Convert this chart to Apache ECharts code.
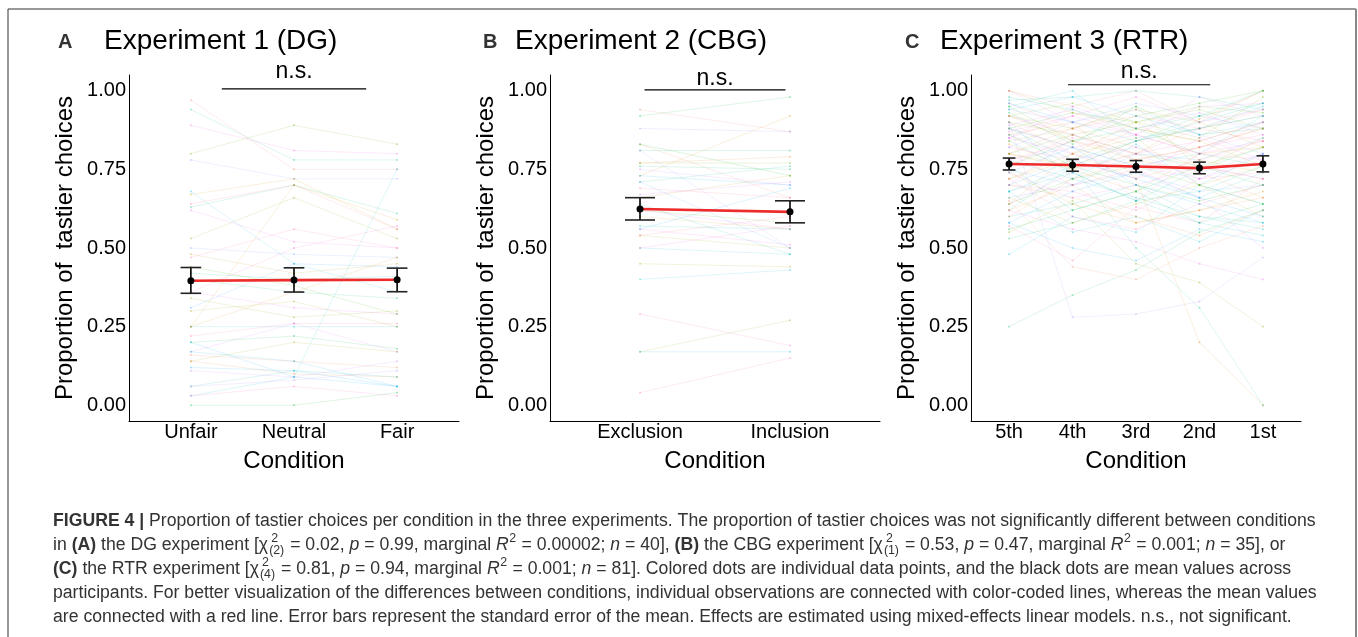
<!DOCTYPE html>
<html>
<head>
<meta charset="utf-8">
<script src="https://cdn.jsdelivr.net/npm/echarts@6/dist/echarts.min.js"></script>
<style>
html, body { margin: 0; padding: 0; background: #fff; }
#chart { width: 1358px; height: 637px; }
</style>
</head>
<body>
<div id="chart"></div>
<script>
// conditions per experiment
const condA = ['Unfair', 'Neutral', 'Fair'];
const condB = ['Exclusion', 'Inclusion'];
const condC = ['5th', '4th', '3rd', '2nd', '1st'];
const yTicks = [0, 0.25, 0.5, 0.75, 1];

// individual participants (proportion of tastier choices per condition)
const subjA = [
  [0.97, 0.75, 0.75], [0.94, 0.78, 0.78], [0.89, 0.81, 0.80], [0.80, 0.89, 0.83],
  [0.78, 0.72, 0.72], [0.67, 0.72, 0.56], [0.68, 0.45, 0.36], [0.64, 0.70, 0.56],
  [0.63, 0.70, 0.61], [0.62, 0.52, 0.50], [0.53, 0.66, 0.53], [0.50, 0.48, 0.47],
  [0.25, 0.70, 0.59], [0.03, 0.09, 0.75], [0.47, 0.56, 0.50], [0.40, 0.36, 0.34],
  [0.36, 0.31, 0.29], [0.34, 0.28, 0.30], [0.31, 0.45, 0.44], [0.25, 0.36, 0.47],
  [0.25, 0.25, 0.25], [0.22, 0.26, 0.26], [0.20, 0.22, 0.18], [0.17, 0.26, 0.17],
  [0.14, 0.20, 0.17], [0.12, 0.11, 0.06], [0.14, 0.10, 0.09], [0.06, 0.11, 0.09],
  [0.03, 0.06, 0.03], [0.00, 0.00, 0.04], [0.11, 0.09, 0.14], [0.30, 0.33, 0.25],
  [0.20, 0.09, 0.06], [0.16, 0.14, 0.12], [0.42, 0.40, 0.41], [0.36, 0.50, 0.57],
  [0.44, 0.38, 0.29], [0.06, 0.08, 0.11], [0.48, 0.42, 0.45], [0.17, 0.14, 0.06]
];
const subjB = [
  [0.94, 0.87], [0.92, 0.98], [0.88, 0.87], [0.83, 0.66], [0.81, 0.81],
  [0.81, 0.50], [0.77, 0.79], [0.76, 0.75], [0.75, 0.70], [0.73, 0.92],
  [0.71, 0.76], [0.67, 0.71], [0.66, 0.73], [0.64, 0.48], [0.62, 0.56],
  [0.60, 0.56], [0.57, 0.56], [0.56, 0.51], [0.54, 0.50], [0.50, 0.48],
  [0.50, 0.57], [0.45, 0.44], [0.40, 0.43], [0.29, 0.19], [0.17, 0.27],
  [0.17, 0.17], [0.04, 0.15], [0.77, 0.77], [0.73, 0.70], [0.69, 0.66],
  [0.62, 0.58], [0.56, 0.69], [0.54, 0.60], [0.83, 0.73], [0.71, 0.50]
];
const subjC = [
  [1.00, 0.95, 1.00, 0.90, 1.00], [0.25, 0.35, 0.43, 0.55, 0.62], [0.90, 0.28, 0.29, 0.33, 0.47],
  [0.86, 0.90, 0.72, 0.20, 0.00], [0.62, 0.76, 0.50, 0.31, 0.00], [0.85, 0.80, 0.75, 0.66, 0.50],
  [0.80, 0.75, 0.80, 0.91, 1.00], [0.95, 1.00, 0.85, 0.88, 0.95], [0.70, 0.85, 0.65, 0.80, 0.90],
  [0.92, 0.88, 0.95, 0.75, 0.85], [0.48, 0.60, 0.55, 0.70, 0.64], [0.57, 0.46, 0.63, 0.58, 0.72],
  [0.88, 0.93, 0.90, 0.95, 0.93], [0.75, 0.70, 0.80, 0.78, 0.85], [0.65, 0.44, 0.40, 0.50, 0.57],
  [0.93, 0.83, 0.95, 0.86, 0.88], [0.78, 0.82, 0.76, 0.72, 0.80], [0.83, 0.75, 0.68, 0.80, 0.82],
  [0.60, 0.64, 0.70, 0.60, 0.58], [1.00, 0.90, 0.86, 0.95, 0.96], [0.72, 0.78, 0.88, 0.84, 0.76],
  [0.68, 0.55, 0.60, 0.52, 0.62], [0.87, 0.92, 0.98, 0.90, 0.94], [0.55, 0.65, 0.45, 0.39, 0.25],
  [0.90, 0.72, 0.83, 0.70, 0.80], [0.76, 0.86, 0.78, 0.82, 0.88], [0.95, 0.84, 0.92, 0.96, 1.00],
  [0.66, 0.70, 0.74, 0.68, 0.70], [0.80, 0.88, 0.82, 0.76, 0.72], [0.53, 0.58, 0.65, 0.75, 0.82],
  [0.85, 0.95, 0.88, 0.93, 0.86], [0.74, 0.64, 0.58, 0.62, 0.68], [0.97, 0.98, 1.00, 0.98, 0.94],
  [0.82, 0.78, 0.72, 0.85, 0.78], [0.64, 0.80, 0.85, 0.70, 0.60], [0.88, 0.82, 0.76, 0.80, 0.92],
  [0.70, 0.68, 0.62, 0.72, 0.74], [0.92, 0.96, 0.90, 0.85, 0.98], [0.58, 0.50, 0.46, 0.56, 0.52],
  [0.78, 0.84, 0.80, 0.88, 0.84], [0.86, 0.76, 0.70, 0.65, 0.70], [0.94, 0.90, 0.96, 0.92, 0.88],
  [0.60, 0.72, 0.78, 0.74, 0.66], [0.76, 0.62, 0.68, 0.58, 0.64], [0.89, 0.94, 0.86, 0.98, 0.92],
  [0.72, 0.80, 0.90, 0.78, 0.74], [0.84, 0.74, 0.65, 0.68, 0.76], [0.62, 0.56, 0.52, 0.45, 0.40],
  [1.00, 0.93, 0.88, 0.84, 0.90], [0.68, 0.76, 0.84, 0.90, 0.96], [0.80, 0.70, 0.75, 0.82, 0.86],
  [0.90, 0.86, 0.80, 0.76, 0.82], [0.74, 0.82, 0.70, 0.64, 0.58], [0.96, 0.88, 0.92, 0.88, 0.94],
  [0.56, 0.62, 0.68, 0.76, 0.70], [0.82, 0.90, 0.94, 0.86, 0.80], [0.70, 0.66, 0.60, 0.54, 0.62],
  [0.88, 0.78, 0.84, 0.92, 0.96], [0.64, 0.74, 0.80, 0.72, 0.78], [0.92, 0.84, 0.78, 0.82, 0.88],
  [0.78, 0.72, 0.66, 0.60, 0.56], [0.85, 0.92, 0.86, 0.80, 0.84], [0.66, 0.58, 0.64, 0.70, 0.76],
  [0.94, 0.98, 0.92, 0.86, 0.90], [0.72, 0.60, 0.56, 0.64, 0.70], [0.80, 0.86, 0.90, 0.94, 0.88],
  [0.58, 0.68, 0.74, 0.66, 0.60], [0.90, 0.80, 0.72, 0.78, 0.84], [0.76, 0.84, 0.88, 0.80, 0.76],
  [0.86, 0.78, 0.82, 0.74, 0.80], [0.62, 0.70, 0.58, 0.62, 0.66], [0.98, 0.94, 0.88, 0.92, 1.00],
  [0.74, 0.66, 0.70, 0.76, 0.72], [0.84, 0.88, 0.94, 0.90, 0.82], [0.68, 0.74, 0.65, 0.58, 0.54],
  [0.92, 0.86, 0.80, 0.84, 0.90], [0.80, 0.76, 0.84, 0.88, 0.92], [0.70, 0.78, 0.72, 0.66, 0.74],
  [0.88, 0.82, 0.86, 0.80, 0.78], [0.64, 0.72, 0.76, 0.70, 0.64], [0.96, 0.90, 0.84, 0.88, 0.92]
];

// group means and standard error range
const meanA = [0.396, 0.398, 0.399];
const seLowA = [0.356, 0.360, 0.361];
const seHighA = [0.438, 0.437, 0.436];
const meanB = [0.624, 0.615];
const seLowB = [0.589, 0.580];
const seHighB = [0.660, 0.650];
const meanC = [0.767, 0.764, 0.759, 0.754, 0.767];
const seLowC = [0.748, 0.744, 0.741, 0.736, 0.742];
const seHighC = [0.786, 0.782, 0.778, 0.773, 0.793];

// significance bars: [from, to, bar level, label level]
const nsA = [1.30, 2.70, 1.006, 1.062];
const nsB = [1.03, 1.97, 1.003, 1.038];
const nsC = [1.93, 4.17, 1.019, 1.062];

const FONT = "'Liberation Sans', Arial, Helvetica, sans-serif";

// ggplot2 default hue palette (HCL, c=100, l=65)
function hcl(h, c, l) {
  const hr = h * Math.PI / 180;
  const U = c * Math.cos(hr), V = c * Math.sin(hr);
  const Xn = 95.047, Yn = 100, Zn = 108.883;
  const d = Xn + 15 * Yn + 3 * Zn;
  const un = 4 * Xn / d, vn = 9 * Yn / d;
  const Y = l > 8 ? Yn * Math.pow((l + 16) / 116, 3) : Yn * l / 903.3;
  const u = U / (13 * l) + un, v = V / (13 * l) + vn;
  const X = 9 * Y * u / (4 * v);
  const Z = (9 * Y / v - X - 15 * Y) / 3;
  const x = X / 100, y = Y / 100, z = Z / 100;
  const lin = [
    3.240479 * x - 1.537150 * y - 0.498535 * z,
    -0.969256 * x + 1.875992 * y + 0.041556 * z,
    0.055648 * x - 0.204043 * y + 1.057311 * z
  ];
  return '#' + lin.map(function (cc) {
    let g = cc <= 0.0031308 ? 12.92 * cc : 1.055 * Math.pow(cc, 1 / 2.4) - 0.055;
    g = Math.max(0, Math.min(1, g));
    return ('0' + Math.round(g * 255).toString(16)).slice(-2);
  }).join('');
}
function hues(n) {
  const out = [];
  for (let k = 0; k < n; k++) out.push(hcl(15 + 360 * k / n, 100, 65));
  return out;
}

const panels = [
  { cats: condA, subj: subjA, mean: meanA, lo: seLowA, hi: seHighA, ns: nsA, left: 129, stride: 17 },
  { cats: condB, subj: subjB, mean: meanB, lo: seLowB, hi: seHighB, ns: nsB, left: 550, stride: 12 },
  { cats: condC, subj: subjC, mean: meanC, lo: seLowC, hi: seHighC, ns: nsC, left: 971, stride: 29 }
];

const grids = [], xAxes = [], yAxes = [], series = [];

function renderErr(params, api) {
  const x = api.value(0);
  const top = api.coord([x, api.value(2)]);
  const bot = api.coord([x, api.value(1)]);
  const hw = api.size([0.1, 0])[0];
  return {
    type: 'group',
    children: [
      { type: 'line', shape: { x1: top[0], y1: top[1], x2: bot[0], y2: bot[1] }, style: { stroke: '#000', lineWidth: 1.6 } },
      { type: 'line', shape: { x1: top[0] - hw, y1: top[1], x2: top[0] + hw, y2: top[1] }, style: { stroke: '#222', lineWidth: 1.6 } },
      { type: 'line', shape: { x1: bot[0] - hw, y1: bot[1], x2: bot[0] + hw, y2: bot[1] }, style: { stroke: '#222', lineWidth: 1.6 } }
    ]
  };
}

function renderNs(params, api) {
  const a = api.coord([api.value(0), api.value(2)]);
  const b = api.coord([api.value(1), api.value(2)]);
  const t = api.coord([(api.value(0) + api.value(1)) / 2, api.value(3)]);
  return {
    type: 'group',
    children: [
      { type: 'line', shape: { x1: a[0], y1: a[1], x2: b[0], y2: b[1] }, style: { stroke: '#000', lineWidth: 1.2 } },
      { type: 'text', x: t[0], y: t[1], style: { text: 'n.s.', font: '23px ' + FONT, fill: '#000', textAlign: 'center', textVerticalAlign: 'middle' } }
    ]
  };
}

panels.forEach(function (p, i) {
  const n = p.cats.length;
  grids.push({ left: p.left, top: 75, width: 330, height: 346, containLabel: false });
  xAxes.push({
    gridIndex: i, type: 'value', min: 0.4, max: n + 0.6,
    axisLine: { show: true, onZero: false, lineStyle: { color: '#000', width: 1 } },
    axisTick: { show: false }, splitLine: { show: false },
    axisLabel: {
      customValues: p.cats.map(function (c, k) { return k + 1; }),
      formatter: function (v) { return p.cats[Math.round(v) - 1]; },
      fontSize: 20, color: '#000', fontFamily: FONT, margin: 1
    },
    name: 'Condition', nameLocation: 'middle', nameGap: 28,
    nameTextStyle: { fontSize: 24, color: '#000', fontFamily: FONT }
  });
  yAxes.push({
    gridIndex: i, type: 'value', min: -0.05, max: 1.05,
    axisLine: { show: true, onZero: false, lineStyle: { color: '#000', width: 1 } },
    axisTick: { show: false }, splitLine: { show: false },
    axisLabel: {
      customValues: yTicks,
      formatter: function (v) { return v.toFixed(2); },
      fontSize: 20, color: '#000', fontFamily: FONT, margin: 3
    },
    name: 'Proportion of  tastier choices', nameLocation: 'middle', nameGap: 52, nameRotate: 90,
    nameTextStyle: { fontSize: 24, color: '#000', fontFamily: FONT }
  });

  const cols = hues(p.subj.length);
  p.subj.forEach(function (row, j) {
    const col = cols[(j * p.stride) % p.subj.length];
    series.push({
      type: 'line', xAxisIndex: i, yAxisIndex: i, silent: true, z: 1,
      data: row.map(function (v, k) { return [k + 1, v]; }),
      symbol: 'circle', symbolSize: 2, showAllSymbol: true,
      lineStyle: { color: col, width: 0.7, opacity: 0.2 },
      itemStyle: { color: col, opacity: 0.35 },
      emphasis: { disabled: true }
    });
  });

  series.push({
    type: 'custom', xAxisIndex: i, yAxisIndex: i, silent: true, z: 3, clip: false,
    renderItem: renderErr,
    encode: { x: 0, y: [1, 2] },
    data: p.mean.map(function (m, k) { return [k + 1, p.lo[k], p.hi[k]]; })
  });
  series.push({
    type: 'line', xAxisIndex: i, yAxisIndex: i, silent: true, z: 4,
    data: p.mean.map(function (m, k) { return [k + 1, m]; }),
    symbol: 'none', lineStyle: { color: '#ee2b2b', width: 2.6 }
  });
  series.push({
    type: 'scatter', xAxisIndex: i, yAxisIndex: i, silent: true, z: 5,
    data: p.mean.map(function (m, k) { return [k + 1, m]; }),
    symbolSize: 7, itemStyle: { color: '#000', opacity: 1 }
  });
  series.push({
    type: 'custom', xAxisIndex: i, yAxisIndex: i, silent: true, z: 5, clip: false,
    renderItem: renderNs,
    encode: { x: [0, 1], y: [2, 3] },
    data: [p.ns]
  });
});

// panel headings
const headings = [
  { tag: 'A', tagX: 58, text: 'Experiment 1 (DG)', x: 104 },
  { tag: 'B', tagX: 483, text: 'Experiment 2 (CBG)', x: 515 },
  { tag: 'C', tagX: 905, text: 'Experiment 3 (RTR)', x: 940 }
];

// caption lines: segments [kind, text, sub]
const caption = [
  [['b', 'FIGURE 4 | '], ['n', 'Proportion of tastier choices per condition in the three experiments. The proportion of tastier choices was not significantly different between conditions']],
  [['n', 'in '], ['b', '(A)'], ['n', ' the DG experiment ['], ['chi', '2', '(2)'], ['n', ' = 0.02, '], ['i', 'p'], ['n', ' = 0.99, marginal '], ['i', 'R'], ['sup', '2'], ['n', ' = 0.00002; '], ['i', 'n'], ['n', ' = 40], '],
   ['b', '(B)'], ['n', ' the CBG experiment ['], ['chi', '2', '(1)'], ['n', ' = 0.53, '], ['i', 'p'], ['n', ' = 0.47, marginal '], ['i', 'R'], ['sup', '2'], ['n', ' = 0.001; '], ['i', 'n'], ['n', ' = 35], or']],
  [['b', '(C)'], ['n', ' the RTR experiment ['], ['chi', '2', '(4)'], ['n', ' = 0.81, '], ['i', 'p'], ['n', ' = 0.94, marginal '], ['i', 'R'], ['sup', '2'], ['n', ' = 0.001; '], ['i', 'n'], ['n', ' = 81]. Colored dots are individual data points, and the black dots are mean values across']],
  [['n', 'participants. For better visualization of the differences between conditions, individual observations are connected with color-coded lines, whereas the mean values']],
  [['n', 'are connected with a red line. Error bars represent the standard error of the mean. Effects are estimated using mixed-effects linear models. n.s., not significant.']]
];

const graphic = [];
// frame
graphic.push({ type: 'line', shape: { x1: 8, y1: 9, x2: 1356, y2: 9 }, style: { stroke: '#333', lineWidth: 1 } });
graphic.push({ type: 'line', shape: { x1: 8, y1: 9, x2: 8, y2: 637 }, style: { stroke: '#333', lineWidth: 1 } });
graphic.push({ type: 'line', shape: { x1: 1356, y1: 9, x2: 1356, y2: 637 }, style: { stroke: '#888', lineWidth: 2 } });

headings.forEach(function (h) {
  graphic.push({ type: 'text', x: h.tagX, y: 42, style: { text: h.tag, font: 'bold 20px ' + FONT, fill: '#333', textVerticalAlign: 'middle' } });
  graphic.push({ type: 'text', x: h.x, y: 41, style: { text: h.text, font: '28px ' + FONT, fill: '#000', textVerticalAlign: 'middle' } });
});

const ctx = document.createElement('canvas').getContext('2d');
function width(text, font) { ctx.font = font; return ctx.measureText(text).width; }
// caption size chosen so that the fourth line spans the caption width
const CAP = 15.5 * 1265 / width(caption[3][0][1], '15.5px ' + FONT);
const SMALL = CAP * 0.7, CAPCOL = '#333';
function fontOf(kind) {
  if (kind === 'b') return 'bold ' + CAP + 'px ' + FONT;
  if (kind === 'i') return 'italic ' + CAP + 'px ' + FONT;
  if (kind === 'sup' || kind === 'sub') return SMALL + 'px ' + FONT;
  return CAP + 'px ' + FONT;
}
function put(text, font, x, y) {
  graphic.push({ type: 'text', x: x, y: y, silent: true, style: { text: text, font: font, fill: CAPCOL, textVerticalAlign: 'middle' } });
}
caption.forEach(function (line, li) {
  const y = 521.5 + 24 * li;
  let x = 53;
  line.forEach(function (seg) {
    const kind = seg[0];
    if (kind === 'chi') {
      const f = fontOf('n');
      put('\u03c7', f, x, y);
      x += width('\u03c7', f) + 1;
      const fs = fontOf('sup');
      put(seg[1], fs, x + 2, y - 7);
      put(seg[2], fs, x, y + 5);
      x += Math.max(width(seg[1], fs) + 2, width(seg[2], fs)) + 1;
    } else if (kind === 'sup') {
      const fs = fontOf('sup');
      put(seg[1], fs, x + 0.5, y - 7);
      x += width(seg[1], fs) + 1;
    } else {
      const f = fontOf(kind);
      put(seg[1], f, x, y);
      x += width(seg[1], f);
    }
  });
});

const chart = echarts.init(document.getElementById('chart'));
chart.setOption({
  animation: false,
  backgroundColor: '#fff',
  grid: grids,
  xAxis: xAxes,
  yAxis: yAxes,
  series: series,
  graphic: graphic
});
</script>
</body>
</html>
